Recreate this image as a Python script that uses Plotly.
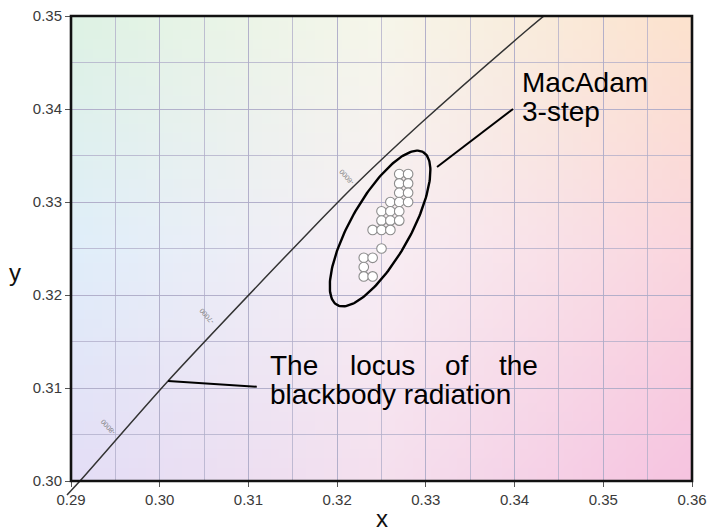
import base64, struct, zlib
import numpy as np
import plotly.graph_objects as go

# ---------------- data ----------------
# Blackbody (Planckian) locus
LOCUS_X = [0.28955, 0.29101, 0.30094, 0.31368, 0.31807, 0.32179, 0.32946, 0.34141, 0.34344, 0.3452]
LOCUS_Y = [0.29849, 0.30000, 0.31075, 0.32365, 0.32800, 0.33161, 0.33849, 0.34849, 0.35010, 0.3513]

# colour temperature labels along the locus
CCT_LABELS = ["-6000", "-7000", "-8000"]
CCT_X = [0.3211, 0.3053, 0.2941]
CCT_Y = [0.3327, 0.3177, 0.3058]

# measured chromaticity points (MacAdam 3-step cluster)
PTS_X = [0.327, 0.328, 0.327, 0.328, 0.327, 0.328,
         0.326, 0.327, 0.328, 0.325, 0.326, 0.327,
         0.325, 0.326, 0.327, 0.324, 0.325, 0.326,
         0.325, 0.323, 0.324, 0.323, 0.323, 0.324]
PTS_Y = [0.333, 0.333, 0.332, 0.332, 0.331, 0.331,
         0.330, 0.330, 0.330, 0.329, 0.329, 0.329,
         0.328, 0.328, 0.328, 0.327, 0.327, 0.327,
         0.325, 0.324, 0.324, 0.323, 0.322, 0.322]

# MacAdam ellipse: centre, semi-major and semi-minor vectors (data units)
ELL_CENTER = (0.32484, 0.32715)
ELL_MAJOR = (0.004848, 0.008226)
ELL_MINOR = (0.002943, -0.001581)

X_RANGE = [0.29, 0.36]
Y_RANGE = [0.30, 0.35]
X_TICKS = [0.29, 0.30, 0.31, 0.32, 0.33, 0.34, 0.35, 0.36]
Y_TICKS = [0.30, 0.31, 0.32, 0.33, 0.34, 0.35]

# background tint (3x3 control colours: rows top->bottom, cols left->right)
BG_TOP = [(222, 242, 228), (246, 246, 234), (252, 226, 206)]
BG_MID = [(224, 238, 250), (248, 238, 244), (250, 214, 222)]
BG_BOT = [(228, 222, 246), (245, 224, 238), (246, 196, 224)]

FONT = "Arial, Liberation Sans, sans-serif"


def bg_png(w=70, h=50):
    grid = np.array([BG_TOP, BG_MID, BG_BOT], dtype=float)
    rows = []
    for j in range(h):
        v = j / (h - 1) * 2
        j0 = min(int(v), 1)
        fv = v - j0
        row = bytearray()
        for i in range(w):
            u = i / (w - 1) * 2
            i0 = min(int(u), 1)
            fu = u - i0
            c = (grid[j0, i0] * (1 - fu) * (1 - fv) + grid[j0, i0 + 1] * fu * (1 - fv)
                 + grid[j0 + 1, i0] * (1 - fu) * fv + grid[j0 + 1, i0 + 1] * fu * fv)
            row += bytes(int(round(x)) for x in c)
        rows.append(b"\x00" + bytes(row))
    raw = b"".join(rows)

    def chunk(tag, data):
        return (struct.pack(">I", len(data)) + tag + data
                + struct.pack(">I", zlib.crc32(tag + data) & 0xffffffff))

    png = (b"\x89PNG\r\n\x1a\n"
           + chunk(b"IHDR", struct.pack(">IIBBBBB", w, h, 8, 2, 0, 0, 0))
           + chunk(b"IDAT", zlib.compress(raw, 9))
           + chunk(b"IEND", b""))
    return "data:image/png;base64," + base64.b64encode(png).decode()


def to_paper(x, y):
    return ((x - X_RANGE[0]) / (X_RANGE[1] - X_RANGE[0]),
            (y - Y_RANGE[0]) / (Y_RANGE[1] - Y_RANGE[0]))


fig = go.Figure()

# locus
fig.add_trace(go.Scatter(x=LOCUS_X, y=LOCUS_Y, mode="lines",
                         line=dict(color="#333333", width=1.5, shape="spline", smoothing=0.8),
                         hoverinfo="skip", showlegend=False))
# small part of the locus running past the bottom axis (not clipped in the original)
p0 = to_paper(LOCUS_X[0], LOCUS_Y[0])
p1 = to_paper(LOCUS_X[1], LOCUS_Y[1])
fig.add_shape(type="line", xref="paper", yref="paper", x0=p1[0], y0=p1[1], x1=p0[0], y1=p0[1],
              line=dict(color="#333333", width=1.5), layer="above")

# ellipse
t = np.linspace(0, 2 * np.pi, 181)
ex = ELL_CENTER[0] + np.cos(t) * ELL_MAJOR[0] + np.sin(t) * ELL_MINOR[0]
ey = ELL_CENTER[1] + np.cos(t) * ELL_MAJOR[1] + np.sin(t) * ELL_MINOR[1]
fig.add_trace(go.Scatter(x=ex, y=ey, mode="lines",
                         line=dict(color="#000000", width=2.4),
                         hoverinfo="skip", showlegend=False))

# points
fig.add_trace(go.Scatter(x=PTS_X, y=PTS_Y, mode="markers",
                         marker=dict(size=9.6, color="#ffffff",
                                     line=dict(color="#8c8c8c", width=1.1)),
                         showlegend=False))

# CCT labels
for lab, lx, ly in zip(CCT_LABELS, CCT_X, CCT_Y):
    fig.add_annotation(x=lx, y=ly, xref="x", yref="y", text=lab, showarrow=False,
                       textangle=-132, font=dict(family=FONT, size=7, color="#808080"))

# leader lines
fig.add_shape(type="line", xref="x", yref="y", x0=0.30094, y0=0.31075, x1=0.31094, y1=0.31014,
              line=dict(color="#000000", width=2))
fig.add_shape(type="line", xref="x", yref="y", x0=0.33126, y0=0.33376, x1=0.33983, y1=0.34000,
              line=dict(color="#000000", width=2))

# plot frame
fig.add_shape(type="rect", xref="paper", yref="paper", x0=0, y0=0, x1=1, y1=1,
              line=dict(color="#111111", width=2.6), fillcolor="rgba(0,0,0,0)", layer="above")

# texts
TXT = dict(family=FONT, size=28, color="#000000")
fig.add_annotation(x=0.34062, y=0.34290, xref="x", yref="y", text="MacAdam", showarrow=False,
                   xanchor="left", yanchor="middle", font=TXT)
fig.add_annotation(x=0.34062, y=0.33968, xref="x", yref="y", text="3-step", showarrow=False,
                   xanchor="left", yanchor="middle", font=TXT)
for word, wx in [("The", 0.31221), ("locus", 0.32123), ("of", 0.33194), ("the", 0.33804)]:
    fig.add_annotation(x=wx, y=0.31247, xref="x", yref="y", text=word, showarrow=False,
                       xanchor="left", yanchor="middle", font=TXT)
fig.add_annotation(x=0.31221, y=0.30925, xref="x", yref="y", text="blackbody radiation",
                   showarrow=False, xanchor="left", yanchor="middle", font=TXT)

# axis titles (upright)
fig.add_annotation(x=-0.090, y=0.449, xref="paper", yref="paper", text="y", showarrow=False,
                   xanchor="center", yanchor="middle",
                   font=dict(family=FONT, size=24, color="#111111"))
fig.add_annotation(x=0.5008, y=-0.080, xref="paper", yref="paper", text="x", showarrow=False,
                   xanchor="center", yanchor="middle",
                   font=dict(family=FONT, size=24, color="#111111"))

fig.add_layout_image(source=bg_png(), xref="x", yref="y", x=X_RANGE[0], y=Y_RANGE[1],
                     sizex=X_RANGE[1] - X_RANGE[0], sizey=Y_RANGE[1] - Y_RANGE[0],
                     xanchor="left", yanchor="top", sizing="stretch", layer="below")

GRID = "rgba(175,172,200,0.75)"
axis_common = dict(showgrid=True, gridcolor=GRID, gridwidth=1, zeroline=False, automargin=False,
                   showline=False,
                   ticks="outside", ticklen=5, tickcolor="#555555", tickwidth=1,
                   tickformat=".2f", tickfont=dict(family=FONT, size=15, color="#3a3a3a"),
                   minor=dict(dtick=0.005, showgrid=True, gridcolor=GRID, gridwidth=1, ticks=""))
fig.update_xaxes(range=X_RANGE, tickvals=X_TICKS, **axis_common)
fig.update_yaxes(range=Y_RANGE, tickvals=Y_TICKS, **axis_common)
fig.update_xaxes(minor=dict(tick0=0.29))
fig.update_yaxes(minor=dict(tick0=0.30))

fig.update_layout(width=710, height=532, margin=dict(l=71, r=18, t=16, b=51),
                  paper_bgcolor="#ffffff", plot_bgcolor="#ffffff",
                  font=dict(family=FONT), hovermode=False)

fig.write_html("out.html", config={"displayModeBar": False},
               post_script="document.body.style.margin='0';document.body.style.overflow='hidden';")
